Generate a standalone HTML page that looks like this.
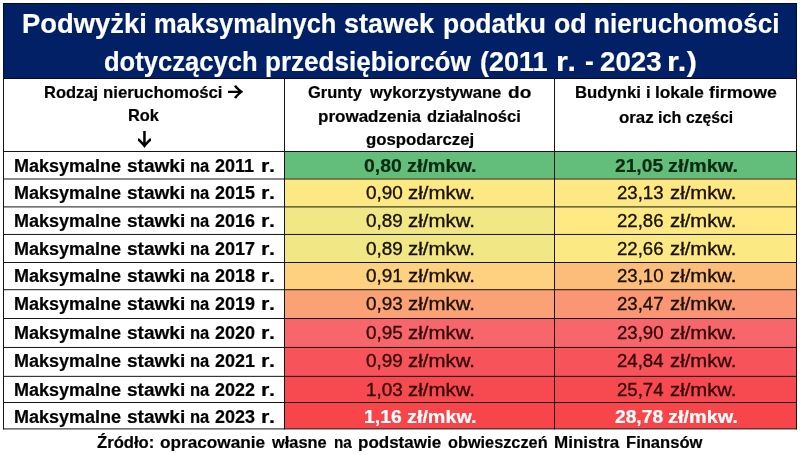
<!DOCTYPE html>
<html lang="pl"><head><meta charset="utf-8"><title>Podwyżki maksymalnych stawek podatku od nieruchomości</title>
<style>
html,body{margin:0;padding:0;background:#fff}
#w{position:relative;width:800px;height:455px;overflow:hidden;background:#fff;font-family:"Liberation Sans", sans-serif}
.t{position:absolute;white-space:nowrap;line-height:1;transform-origin:0 0;display:block}
</style></head><body><div id="w">
<svg width="800" height="455" viewBox="0 0 800 455" style="position:absolute;left:0;top:0"><rect x="0" y="0" width="800" height="455" fill="#fff"/><rect x="3" y="3" width="794" height="76" fill="#012066"/><rect x="284" y="151.0" width="271" height="28.00" fill="#63be7b"/><rect x="554" y="151.0" width="243" height="28.00" fill="#63be7b"/><rect x="284" y="178.5" width="271" height="28.40" fill="#fde983"/><rect x="554" y="178.5" width="243" height="28.40" fill="#fee883"/><rect x="284" y="206.4" width="271" height="28.05" fill="#f1e784"/><rect x="554" y="206.4" width="243" height="28.05" fill="#fee983"/><rect x="284" y="233.95" width="271" height="28.55" fill="#f1e784"/><rect x="554" y="233.95" width="243" height="28.55" fill="#fbe983"/><rect x="284" y="262.0" width="271" height="27.70" fill="#fdd17f"/><rect x="554" y="262.0" width="243" height="27.70" fill="#fcbc7a"/><rect x="284" y="289.2" width="271" height="29.30" fill="#fba176"/><rect x="554" y="289.2" width="243" height="29.30" fill="#fa9673"/><rect x="284" y="318.0" width="271" height="29.45" fill="#f7666a"/><rect x="554" y="318.0" width="243" height="29.45" fill="#f7666a"/><rect x="284" y="346.95" width="271" height="29.40" fill="#f6545a"/><rect x="554" y="346.95" width="243" height="29.40" fill="#f6545a"/><rect x="284" y="375.85" width="271" height="26.65" fill="#f64a50"/><rect x="554" y="375.85" width="243" height="26.65" fill="#f64a50"/><rect x="284" y="402.0" width="271" height="26.90" fill="#f7454a"/><rect x="554" y="402.0" width="243" height="26.90" fill="#f7454a"/><rect x="3" y="3" width="794" height="1" fill="#000a24"/><rect x="3" y="78" width="794" height="1" fill="#00081c"/><rect x="3" y="151.0" width="794" height="1" fill="#161616"/><rect x="3" y="178.5" width="794" height="1" fill="#161616"/><rect x="3" y="206.4" width="794" height="1" fill="#161616"/><rect x="3" y="233.95" width="794" height="1" fill="#161616"/><rect x="3" y="262.0" width="794" height="1" fill="#161616"/><rect x="3" y="289.2" width="794" height="1" fill="#161616"/><rect x="3" y="318.0" width="794" height="1" fill="#161616"/><rect x="3" y="346.95" width="794" height="1" fill="#161616"/><rect x="3" y="375.85" width="794" height="1" fill="#161616"/><rect x="3" y="402.0" width="794" height="1" fill="#161616"/><rect x="3" y="428.4" width="794" height="1" fill="#161616"/><rect x="3" y="3" width="1" height="426.4" fill="#161616"/><rect x="796" y="3" width="1" height="426.4" fill="#161616"/><rect x="3" y="3" width="1" height="75" fill="#00103a"/><rect x="796" y="3" width="1" height="75" fill="#00103a"/><rect x="284" y="78" width="1" height="351.4" fill="#161616"/><rect x="554" y="78" width="1" height="351.4" fill="#161616"/></svg>
<span class="t" style="left:21.97px;top:10.20px;font-size:27.6px;font-weight:700;color:#fff;font-family:'Liberation Sans', sans-serif;transform:scale(0.9921,1.0000);-webkit-text-stroke:0.2px #fff">Podwyżki</span>
<span class="t" style="left:153.60px;top:10.20px;font-size:27.6px;font-weight:700;color:#fff;font-family:'Liberation Sans', sans-serif;transform:scale(0.9218,1.0000);-webkit-text-stroke:0.2px #fff">maksymalnych</span>
<span class="t" style="left:343.61px;top:10.20px;font-size:27.6px;font-weight:700;color:#fff;font-family:'Liberation Sans', sans-serif;transform:scale(0.9792,1.0000);-webkit-text-stroke:0.2px #fff">stawek</span>
<span class="t" style="left:443.23px;top:10.20px;font-size:27.6px;font-weight:700;color:#fff;font-family:'Liberation Sans', sans-serif;transform:scale(0.9601,1.0000);-webkit-text-stroke:0.2px #fff">podatku</span>
<span class="t" style="left:553.90px;top:10.20px;font-size:27.6px;font-weight:700;color:#fff;font-family:'Liberation Sans', sans-serif;transform:scale(0.9677,1.0000);-webkit-text-stroke:0.2px #fff">od</span>
<span class="t" style="left:593.56px;top:10.20px;font-size:27.6px;font-weight:700;color:#fff;font-family:'Liberation Sans', sans-serif;transform:scale(0.9445,1.0000);-webkit-text-stroke:0.2px #fff">nieruchomości</span>
<span class="t" style="left:103.71px;top:47.70px;font-size:27.6px;font-weight:700;color:#fff;font-family:'Liberation Sans', sans-serif;transform:scale(0.9269,1.0000);-webkit-text-stroke:0.2px #fff">dotyczących</span>
<span class="t" style="left:264.76px;top:47.70px;font-size:27.6px;font-weight:700;color:#fff;font-family:'Liberation Sans', sans-serif;transform:scale(0.9445,1.0000);-webkit-text-stroke:0.2px #fff">przedsiębiorców</span>
<span class="t" style="left:479.61px;top:47.70px;font-size:27.6px;font-weight:700;color:#fff;font-family:'Liberation Sans', sans-serif;transform:scale(0.9790,1.0000);-webkit-text-stroke:0.2px #fff">(2011</span>
<span class="t" style="left:556.07px;top:47.70px;font-size:27.6px;font-weight:700;color:#fff;font-family:'Liberation Sans', sans-serif;transform:scale(1.1047,1.0000);-webkit-text-stroke:0.2px #fff;letter-spacing:1.233px">r.</span>
<span class="t" style="left:584.53px;top:47.70px;font-size:27.6px;font-weight:700;color:#fff;font-family:'Liberation Sans', sans-serif;transform:scale(0.9523,1.0000);-webkit-text-stroke:0.2px #fff">-</span>
<span class="t" style="left:599.90px;top:47.70px;font-size:27.6px;font-weight:700;color:#fff;font-family:'Liberation Sans', sans-serif;transform:scale(1.0037,1.0000);-webkit-text-stroke:0.2px #fff">2023</span>
<span class="t" style="left:667.27px;top:47.70px;font-size:27.6px;font-weight:700;color:#fff;font-family:'Liberation Sans', sans-serif;transform:scale(1.1047,1.0000);-webkit-text-stroke:0.2px #fff;letter-spacing:0.536px">r.)</span>
<span class="t" style="left:43.98px;top:83.90px;font-size:17.0px;font-weight:700;color:#000;font-family:'Liberation Sans', sans-serif;transform:scale(0.9689,1.0000);-webkit-text-stroke:0.2px #000">Rodzaj</span>
<span class="t" style="left:102.64px;top:83.90px;font-size:17.0px;font-weight:700;color:#000;font-family:'Liberation Sans', sans-serif;transform:scale(0.9884,1.0000);-webkit-text-stroke:0.2px #000">nieruchomości</span>
<span class="t" style="left:128.48px;top:107.30px;font-size:17.0px;font-weight:700;color:#000;font-family:'Liberation Sans', sans-serif;transform:scale(0.9640,1.0000);-webkit-text-stroke:0.2px #000">Rok</span>
<span class="t" style="left:308.25px;top:83.60px;font-size:17.0px;font-weight:700;color:#000;font-family:'Liberation Sans', sans-serif;transform:scale(0.9683,1.0000);-webkit-text-stroke:0.2px #000">Grunty</span>
<span class="t" style="left:369.62px;top:83.60px;font-size:17.0px;font-weight:700;color:#000;font-family:'Liberation Sans', sans-serif;transform:scale(0.9788,1.0000);-webkit-text-stroke:0.2px #000">wykorzystywane</span>
<span class="t" style="left:507.57px;top:83.60px;font-size:17.0px;font-weight:700;color:#000;font-family:'Liberation Sans', sans-serif;transform:scale(1.1214,1.0000);-webkit-text-stroke:0.2px #000">do</span>
<span class="t" style="left:317.62px;top:107.50px;font-size:17.0px;font-weight:700;color:#000;font-family:'Liberation Sans', sans-serif;transform:scale(1.0012,1.0000);-webkit-text-stroke:0.2px #000">prowadzenia</span>
<span class="t" style="left:427.48px;top:107.50px;font-size:17.0px;font-weight:700;color:#000;font-family:'Liberation Sans', sans-serif;transform:scale(0.9733,1.0000);-webkit-text-stroke:0.2px #000">działalności</span>
<span class="t" style="left:365.77px;top:130.90px;font-size:17.0px;font-weight:700;color:#000;font-family:'Liberation Sans', sans-serif;transform:scale(0.9875,1.0000);-webkit-text-stroke:0.2px #000">gospodarczej</span>
<span class="t" style="left:574.86px;top:84.00px;font-size:17.0px;font-weight:700;color:#000;font-family:'Liberation Sans', sans-serif;transform:scale(0.9832,1.0000);-webkit-text-stroke:0.2px #000">Budynki</span>
<span class="t" style="left:645.61px;top:84.00px;font-size:17.0px;font-weight:700;color:#000;font-family:'Liberation Sans', sans-serif;transform:scale(0.9832,1.0000);-webkit-text-stroke:0.2px #000">i</span>
<span class="t" style="left:654.57px;top:84.00px;font-size:17.0px;font-weight:700;color:#000;font-family:'Liberation Sans', sans-serif;transform:scale(1.0149,1.0000);-webkit-text-stroke:0.2px #000">lokale</span>
<span class="t" style="left:708.57px;top:84.00px;font-size:17.0px;font-weight:700;color:#000;font-family:'Liberation Sans', sans-serif;transform:scale(1.0388,1.0000);-webkit-text-stroke:0.2px #000">firmowe</span>
<span class="t" style="left:618.99px;top:109.20px;font-size:17.0px;font-weight:700;color:#000;font-family:'Liberation Sans', sans-serif;transform:scale(0.9921,1.0000);-webkit-text-stroke:0.2px #000">oraz</span>
<span class="t" style="left:657.95px;top:109.20px;font-size:17.0px;font-weight:700;color:#000;font-family:'Liberation Sans', sans-serif;transform:scale(0.9483,1.0000);-webkit-text-stroke:0.2px #000">ich</span>
<span class="t" style="left:686.24px;top:109.20px;font-size:17.0px;font-weight:700;color:#000;font-family:'Liberation Sans', sans-serif;transform:scale(0.9249,1.0000);-webkit-text-stroke:0.2px #000">części</span>
<span class="t" style="left:13.77px;top:157.55px;font-size:17.5px;font-weight:700;color:#000;font-family:'Liberation Sans', sans-serif;transform:scale(1.0287,1.0000);-webkit-text-stroke:0.2px #000">Maksymalne</span>
<span class="t" style="left:126.88px;top:157.55px;font-size:17.5px;font-weight:700;color:#000;font-family:'Liberation Sans', sans-serif;transform:scale(1.0888,1.0000);-webkit-text-stroke:0.2px #000">stawki</span>
<span class="t" style="left:189.77px;top:157.55px;font-size:17.5px;font-weight:700;color:#000;font-family:'Liberation Sans', sans-serif;transform:scale(0.9454,1.0000);-webkit-text-stroke:0.2px #000">na</span>
<span class="t" style="left:215.47px;top:157.55px;font-size:17.5px;font-weight:700;color:#000;font-family:'Liberation Sans', sans-serif;transform:scale(1.0280,1.0000);-webkit-text-stroke:0.2px #000">2011</span>
<span class="t" style="left:261.03px;top:157.55px;font-size:17.5px;font-weight:700;color:#000;font-family:'Liberation Sans', sans-serif;transform:scale(1.2281,1.0000);-webkit-text-stroke:0.2px #000;letter-spacing:0.598px">r.</span>
<span class="t" style="left:364.30px;top:156.55px;font-size:18.0px;font-weight:700;color:#0a2a12;font-family:'Liberation Sans', sans-serif;transform:scale(1.0778,1.0000);-webkit-text-stroke:0.2px #0a2a12">0,80</span>
<span class="t" style="left:407.11px;top:156.55px;font-size:18.0px;font-weight:700;color:#0a2a12;font-family:'Liberation Sans', sans-serif;transform:scale(1.0983,1.0000);-webkit-text-stroke:0.2px #0a2a12">zł/mkw.</span>
<span class="t" style="left:614.93px;top:156.55px;font-size:18.0px;font-weight:700;color:#0a2a12;font-family:'Liberation Sans', sans-serif;transform:scale(1.0674,1.0000);-webkit-text-stroke:0.2px #0a2a12">21,05</span>
<span class="t" style="left:667.80px;top:156.55px;font-size:18.0px;font-weight:700;color:#0a2a12;font-family:'Liberation Sans', sans-serif;transform:scale(1.1064,1.0000);-webkit-text-stroke:0.2px #0a2a12">zł/mkw.</span>
<span class="t" style="left:13.77px;top:184.90px;font-size:17.5px;font-weight:700;color:#000;font-family:'Liberation Sans', sans-serif;transform:scale(1.0287,1.0000);-webkit-text-stroke:0.2px #000">Maksymalne</span>
<span class="t" style="left:126.88px;top:184.90px;font-size:17.5px;font-weight:700;color:#000;font-family:'Liberation Sans', sans-serif;transform:scale(1.0888,1.0000);-webkit-text-stroke:0.2px #000">stawki</span>
<span class="t" style="left:189.77px;top:184.90px;font-size:17.5px;font-weight:700;color:#000;font-family:'Liberation Sans', sans-serif;transform:scale(0.9454,1.0000);-webkit-text-stroke:0.2px #000">na</span>
<span class="t" style="left:215.47px;top:184.90px;font-size:17.5px;font-weight:700;color:#000;font-family:'Liberation Sans', sans-serif;transform:scale(1.0280,1.0000);-webkit-text-stroke:0.2px #000">2015</span>
<span class="t" style="left:261.03px;top:184.90px;font-size:17.5px;font-weight:700;color:#000;font-family:'Liberation Sans', sans-serif;transform:scale(1.2281,1.0000);-webkit-text-stroke:0.2px #000;letter-spacing:0.598px">r.</span>
<span class="t" style="left:366.23px;top:183.90px;font-size:18.0px;font-weight:400;color:#1a1208;font-family:'Liberation Sans', sans-serif;transform:scale(1.0521,1.0000);-webkit-text-stroke:0.35px #1a1208">0,90</span>
<span class="t" style="left:407.86px;top:183.90px;font-size:18.0px;font-weight:400;color:#1a1208;font-family:'Liberation Sans', sans-serif;transform:scale(1.1357,1.0000);-webkit-text-stroke:0.35px #1a1208">zł/mkw.</span>
<span class="t" style="left:616.57px;top:183.90px;font-size:18.0px;font-weight:400;color:#1a1208;font-family:'Liberation Sans', sans-serif;transform:scale(1.0333,1.0000);-webkit-text-stroke:0.35px #1a1208">23,13</span>
<span class="t" style="left:669.77px;top:183.90px;font-size:18.0px;font-weight:400;color:#1a1208;font-family:'Liberation Sans', sans-serif;transform:scale(1.1269,1.0000);-webkit-text-stroke:0.35px #1a1208">zł/mkw.</span>
<span class="t" style="left:13.77px;top:212.90px;font-size:17.5px;font-weight:700;color:#000;font-family:'Liberation Sans', sans-serif;transform:scale(1.0287,1.0000);-webkit-text-stroke:0.2px #000">Maksymalne</span>
<span class="t" style="left:126.88px;top:212.90px;font-size:17.5px;font-weight:700;color:#000;font-family:'Liberation Sans', sans-serif;transform:scale(1.0888,1.0000);-webkit-text-stroke:0.2px #000">stawki</span>
<span class="t" style="left:189.77px;top:212.90px;font-size:17.5px;font-weight:700;color:#000;font-family:'Liberation Sans', sans-serif;transform:scale(0.9454,1.0000);-webkit-text-stroke:0.2px #000">na</span>
<span class="t" style="left:215.47px;top:212.90px;font-size:17.5px;font-weight:700;color:#000;font-family:'Liberation Sans', sans-serif;transform:scale(1.0280,1.0000);-webkit-text-stroke:0.2px #000">2016</span>
<span class="t" style="left:261.03px;top:212.90px;font-size:17.5px;font-weight:700;color:#000;font-family:'Liberation Sans', sans-serif;transform:scale(1.2281,1.0000);-webkit-text-stroke:0.2px #000;letter-spacing:0.598px">r.</span>
<span class="t" style="left:366.23px;top:211.90px;font-size:18.0px;font-weight:400;color:#1a1208;font-family:'Liberation Sans', sans-serif;transform:scale(1.0521,1.0000);-webkit-text-stroke:0.35px #1a1208">0,89</span>
<span class="t" style="left:407.86px;top:211.90px;font-size:18.0px;font-weight:400;color:#1a1208;font-family:'Liberation Sans', sans-serif;transform:scale(1.1357,1.0000);-webkit-text-stroke:0.35px #1a1208">zł/mkw.</span>
<span class="t" style="left:616.57px;top:211.90px;font-size:18.0px;font-weight:400;color:#1a1208;font-family:'Liberation Sans', sans-serif;transform:scale(1.0333,1.0000);-webkit-text-stroke:0.35px #1a1208">22,86</span>
<span class="t" style="left:669.77px;top:211.90px;font-size:18.0px;font-weight:400;color:#1a1208;font-family:'Liberation Sans', sans-serif;transform:scale(1.1269,1.0000);-webkit-text-stroke:0.35px #1a1208">zł/mkw.</span>
<span class="t" style="left:13.77px;top:240.60px;font-size:17.5px;font-weight:700;color:#000;font-family:'Liberation Sans', sans-serif;transform:scale(1.0287,1.0000);-webkit-text-stroke:0.2px #000">Maksymalne</span>
<span class="t" style="left:126.88px;top:240.60px;font-size:17.5px;font-weight:700;color:#000;font-family:'Liberation Sans', sans-serif;transform:scale(1.0888,1.0000);-webkit-text-stroke:0.2px #000">stawki</span>
<span class="t" style="left:189.77px;top:240.60px;font-size:17.5px;font-weight:700;color:#000;font-family:'Liberation Sans', sans-serif;transform:scale(0.9454,1.0000);-webkit-text-stroke:0.2px #000">na</span>
<span class="t" style="left:215.47px;top:240.60px;font-size:17.5px;font-weight:700;color:#000;font-family:'Liberation Sans', sans-serif;transform:scale(1.0280,1.0000);-webkit-text-stroke:0.2px #000">2017</span>
<span class="t" style="left:261.03px;top:240.60px;font-size:17.5px;font-weight:700;color:#000;font-family:'Liberation Sans', sans-serif;transform:scale(1.2281,1.0000);-webkit-text-stroke:0.2px #000;letter-spacing:0.598px">r.</span>
<span class="t" style="left:366.23px;top:239.60px;font-size:18.0px;font-weight:400;color:#1a1208;font-family:'Liberation Sans', sans-serif;transform:scale(1.0521,1.0000);-webkit-text-stroke:0.35px #1a1208">0,89</span>
<span class="t" style="left:407.86px;top:239.60px;font-size:18.0px;font-weight:400;color:#1a1208;font-family:'Liberation Sans', sans-serif;transform:scale(1.1357,1.0000);-webkit-text-stroke:0.35px #1a1208">zł/mkw.</span>
<span class="t" style="left:616.57px;top:239.60px;font-size:18.0px;font-weight:400;color:#1a1208;font-family:'Liberation Sans', sans-serif;transform:scale(1.0333,1.0000);-webkit-text-stroke:0.35px #1a1208">22,66</span>
<span class="t" style="left:669.77px;top:239.60px;font-size:18.0px;font-weight:400;color:#1a1208;font-family:'Liberation Sans', sans-serif;transform:scale(1.1269,1.0000);-webkit-text-stroke:0.35px #1a1208">zł/mkw.</span>
<span class="t" style="left:13.77px;top:268.20px;font-size:17.5px;font-weight:700;color:#000;font-family:'Liberation Sans', sans-serif;transform:scale(1.0287,1.0000);-webkit-text-stroke:0.2px #000">Maksymalne</span>
<span class="t" style="left:126.88px;top:268.20px;font-size:17.5px;font-weight:700;color:#000;font-family:'Liberation Sans', sans-serif;transform:scale(1.0888,1.0000);-webkit-text-stroke:0.2px #000">stawki</span>
<span class="t" style="left:189.77px;top:268.20px;font-size:17.5px;font-weight:700;color:#000;font-family:'Liberation Sans', sans-serif;transform:scale(0.9454,1.0000);-webkit-text-stroke:0.2px #000">na</span>
<span class="t" style="left:215.47px;top:268.20px;font-size:17.5px;font-weight:700;color:#000;font-family:'Liberation Sans', sans-serif;transform:scale(1.0280,1.0000);-webkit-text-stroke:0.2px #000">2018</span>
<span class="t" style="left:261.03px;top:268.20px;font-size:17.5px;font-weight:700;color:#000;font-family:'Liberation Sans', sans-serif;transform:scale(1.2281,1.0000);-webkit-text-stroke:0.2px #000;letter-spacing:0.598px">r.</span>
<span class="t" style="left:366.23px;top:267.20px;font-size:18.0px;font-weight:400;color:#1a1208;font-family:'Liberation Sans', sans-serif;transform:scale(1.0521,1.0000);-webkit-text-stroke:0.35px #1a1208">0,91</span>
<span class="t" style="left:407.86px;top:267.20px;font-size:18.0px;font-weight:400;color:#1a1208;font-family:'Liberation Sans', sans-serif;transform:scale(1.1357,1.0000);-webkit-text-stroke:0.35px #1a1208">zł/mkw.</span>
<span class="t" style="left:616.57px;top:267.20px;font-size:18.0px;font-weight:400;color:#1a1208;font-family:'Liberation Sans', sans-serif;transform:scale(1.0333,1.0000);-webkit-text-stroke:0.35px #1a1208">23,10</span>
<span class="t" style="left:669.77px;top:267.20px;font-size:18.0px;font-weight:400;color:#1a1208;font-family:'Liberation Sans', sans-serif;transform:scale(1.1269,1.0000);-webkit-text-stroke:0.35px #1a1208">zł/mkw.</span>
<span class="t" style="left:13.77px;top:295.80px;font-size:17.5px;font-weight:700;color:#000;font-family:'Liberation Sans', sans-serif;transform:scale(1.0287,1.0000);-webkit-text-stroke:0.2px #000">Maksymalne</span>
<span class="t" style="left:126.88px;top:295.80px;font-size:17.5px;font-weight:700;color:#000;font-family:'Liberation Sans', sans-serif;transform:scale(1.0888,1.0000);-webkit-text-stroke:0.2px #000">stawki</span>
<span class="t" style="left:189.77px;top:295.80px;font-size:17.5px;font-weight:700;color:#000;font-family:'Liberation Sans', sans-serif;transform:scale(0.9454,1.0000);-webkit-text-stroke:0.2px #000">na</span>
<span class="t" style="left:215.47px;top:295.80px;font-size:17.5px;font-weight:700;color:#000;font-family:'Liberation Sans', sans-serif;transform:scale(1.0280,1.0000);-webkit-text-stroke:0.2px #000">2019</span>
<span class="t" style="left:261.03px;top:295.80px;font-size:17.5px;font-weight:700;color:#000;font-family:'Liberation Sans', sans-serif;transform:scale(1.2281,1.0000);-webkit-text-stroke:0.2px #000;letter-spacing:0.598px">r.</span>
<span class="t" style="left:366.23px;top:294.80px;font-size:18.0px;font-weight:400;color:#1a1208;font-family:'Liberation Sans', sans-serif;transform:scale(1.0521,1.0000);-webkit-text-stroke:0.35px #1a1208">0,93</span>
<span class="t" style="left:407.86px;top:294.80px;font-size:18.0px;font-weight:400;color:#1a1208;font-family:'Liberation Sans', sans-serif;transform:scale(1.1357,1.0000);-webkit-text-stroke:0.35px #1a1208">zł/mkw.</span>
<span class="t" style="left:616.57px;top:294.80px;font-size:18.0px;font-weight:400;color:#1a1208;font-family:'Liberation Sans', sans-serif;transform:scale(1.0333,1.0000);-webkit-text-stroke:0.35px #1a1208">23,47</span>
<span class="t" style="left:669.77px;top:294.80px;font-size:18.0px;font-weight:400;color:#1a1208;font-family:'Liberation Sans', sans-serif;transform:scale(1.1269,1.0000);-webkit-text-stroke:0.35px #1a1208">zł/mkw.</span>
<span class="t" style="left:13.77px;top:324.50px;font-size:17.5px;font-weight:700;color:#000;font-family:'Liberation Sans', sans-serif;transform:scale(1.0287,1.0000);-webkit-text-stroke:0.2px #000">Maksymalne</span>
<span class="t" style="left:126.88px;top:324.50px;font-size:17.5px;font-weight:700;color:#000;font-family:'Liberation Sans', sans-serif;transform:scale(1.0888,1.0000);-webkit-text-stroke:0.2px #000">stawki</span>
<span class="t" style="left:189.77px;top:324.50px;font-size:17.5px;font-weight:700;color:#000;font-family:'Liberation Sans', sans-serif;transform:scale(0.9454,1.0000);-webkit-text-stroke:0.2px #000">na</span>
<span class="t" style="left:215.47px;top:324.50px;font-size:17.5px;font-weight:700;color:#000;font-family:'Liberation Sans', sans-serif;transform:scale(1.0280,1.0000);-webkit-text-stroke:0.2px #000">2020</span>
<span class="t" style="left:261.03px;top:324.50px;font-size:17.5px;font-weight:700;color:#000;font-family:'Liberation Sans', sans-serif;transform:scale(1.2281,1.0000);-webkit-text-stroke:0.2px #000;letter-spacing:0.598px">r.</span>
<span class="t" style="left:366.23px;top:323.50px;font-size:18.0px;font-weight:400;color:#330808;font-family:'Liberation Sans', sans-serif;transform:scale(1.0521,1.0000);-webkit-text-stroke:0.35px #330808">0,95</span>
<span class="t" style="left:407.86px;top:323.50px;font-size:18.0px;font-weight:400;color:#330808;font-family:'Liberation Sans', sans-serif;transform:scale(1.1357,1.0000);-webkit-text-stroke:0.35px #330808">zł/mkw.</span>
<span class="t" style="left:616.57px;top:323.50px;font-size:18.0px;font-weight:400;color:#330808;font-family:'Liberation Sans', sans-serif;transform:scale(1.0333,1.0000);-webkit-text-stroke:0.35px #330808">23,90</span>
<span class="t" style="left:669.77px;top:323.50px;font-size:18.0px;font-weight:400;color:#330808;font-family:'Liberation Sans', sans-serif;transform:scale(1.1269,1.0000);-webkit-text-stroke:0.35px #330808">zł/mkw.</span>
<span class="t" style="left:13.77px;top:352.90px;font-size:17.5px;font-weight:700;color:#000;font-family:'Liberation Sans', sans-serif;transform:scale(1.0287,1.0000);-webkit-text-stroke:0.2px #000">Maksymalne</span>
<span class="t" style="left:126.88px;top:352.90px;font-size:17.5px;font-weight:700;color:#000;font-family:'Liberation Sans', sans-serif;transform:scale(1.0888,1.0000);-webkit-text-stroke:0.2px #000">stawki</span>
<span class="t" style="left:189.77px;top:352.90px;font-size:17.5px;font-weight:700;color:#000;font-family:'Liberation Sans', sans-serif;transform:scale(0.9454,1.0000);-webkit-text-stroke:0.2px #000">na</span>
<span class="t" style="left:215.47px;top:352.90px;font-size:17.5px;font-weight:700;color:#000;font-family:'Liberation Sans', sans-serif;transform:scale(1.0280,1.0000);-webkit-text-stroke:0.2px #000">2021</span>
<span class="t" style="left:261.03px;top:352.90px;font-size:17.5px;font-weight:700;color:#000;font-family:'Liberation Sans', sans-serif;transform:scale(1.2281,1.0000);-webkit-text-stroke:0.2px #000;letter-spacing:0.598px">r.</span>
<span class="t" style="left:366.23px;top:351.90px;font-size:18.0px;font-weight:400;color:#330808;font-family:'Liberation Sans', sans-serif;transform:scale(1.0521,1.0000);-webkit-text-stroke:0.35px #330808">0,99</span>
<span class="t" style="left:407.86px;top:351.90px;font-size:18.0px;font-weight:400;color:#330808;font-family:'Liberation Sans', sans-serif;transform:scale(1.1357,1.0000);-webkit-text-stroke:0.35px #330808">zł/mkw.</span>
<span class="t" style="left:616.57px;top:351.90px;font-size:18.0px;font-weight:400;color:#330808;font-family:'Liberation Sans', sans-serif;transform:scale(1.0333,1.0000);-webkit-text-stroke:0.35px #330808">24,84</span>
<span class="t" style="left:669.77px;top:351.90px;font-size:18.0px;font-weight:400;color:#330808;font-family:'Liberation Sans', sans-serif;transform:scale(1.1269,1.0000);-webkit-text-stroke:0.35px #330808">zł/mkw.</span>
<span class="t" style="left:13.77px;top:381.70px;font-size:17.5px;font-weight:700;color:#000;font-family:'Liberation Sans', sans-serif;transform:scale(1.0287,1.0000);-webkit-text-stroke:0.2px #000">Maksymalne</span>
<span class="t" style="left:126.88px;top:381.70px;font-size:17.5px;font-weight:700;color:#000;font-family:'Liberation Sans', sans-serif;transform:scale(1.0888,1.0000);-webkit-text-stroke:0.2px #000">stawki</span>
<span class="t" style="left:189.77px;top:381.70px;font-size:17.5px;font-weight:700;color:#000;font-family:'Liberation Sans', sans-serif;transform:scale(0.9454,1.0000);-webkit-text-stroke:0.2px #000">na</span>
<span class="t" style="left:215.47px;top:381.70px;font-size:17.5px;font-weight:700;color:#000;font-family:'Liberation Sans', sans-serif;transform:scale(1.0280,1.0000);-webkit-text-stroke:0.2px #000">2022</span>
<span class="t" style="left:261.03px;top:381.70px;font-size:17.5px;font-weight:700;color:#000;font-family:'Liberation Sans', sans-serif;transform:scale(1.2281,1.0000);-webkit-text-stroke:0.2px #000;letter-spacing:0.598px">r.</span>
<span class="t" style="left:366.23px;top:380.70px;font-size:18.0px;font-weight:400;color:#330808;font-family:'Liberation Sans', sans-serif;transform:scale(1.0521,1.0000);-webkit-text-stroke:0.35px #330808">1,03</span>
<span class="t" style="left:407.86px;top:380.70px;font-size:18.0px;font-weight:400;color:#330808;font-family:'Liberation Sans', sans-serif;transform:scale(1.1357,1.0000);-webkit-text-stroke:0.35px #330808">zł/mkw.</span>
<span class="t" style="left:616.57px;top:380.70px;font-size:18.0px;font-weight:400;color:#330808;font-family:'Liberation Sans', sans-serif;transform:scale(1.0333,1.0000);-webkit-text-stroke:0.35px #330808">25,74</span>
<span class="t" style="left:669.77px;top:380.70px;font-size:18.0px;font-weight:400;color:#330808;font-family:'Liberation Sans', sans-serif;transform:scale(1.1269,1.0000);-webkit-text-stroke:0.35px #330808">zł/mkw.</span>
<span class="t" style="left:13.77px;top:408.80px;font-size:17.5px;font-weight:700;color:#000;font-family:'Liberation Sans', sans-serif;transform:scale(1.0287,1.0000);-webkit-text-stroke:0.2px #000">Maksymalne</span>
<span class="t" style="left:126.88px;top:408.80px;font-size:17.5px;font-weight:700;color:#000;font-family:'Liberation Sans', sans-serif;transform:scale(1.0888,1.0000);-webkit-text-stroke:0.2px #000">stawki</span>
<span class="t" style="left:189.77px;top:408.80px;font-size:17.5px;font-weight:700;color:#000;font-family:'Liberation Sans', sans-serif;transform:scale(0.9454,1.0000);-webkit-text-stroke:0.2px #000">na</span>
<span class="t" style="left:215.47px;top:408.80px;font-size:17.5px;font-weight:700;color:#000;font-family:'Liberation Sans', sans-serif;transform:scale(1.0280,1.0000);-webkit-text-stroke:0.2px #000">2023</span>
<span class="t" style="left:261.03px;top:408.80px;font-size:17.5px;font-weight:700;color:#000;font-family:'Liberation Sans', sans-serif;transform:scale(1.2281,1.0000);-webkit-text-stroke:0.2px #000;letter-spacing:0.598px">r.</span>
<span class="t" style="left:364.30px;top:407.80px;font-size:18.0px;font-weight:700;color:#fff;font-family:'Liberation Sans', sans-serif;transform:scale(1.0778,1.0000);-webkit-text-stroke:0.2px #fff">1,16</span>
<span class="t" style="left:407.11px;top:407.80px;font-size:18.0px;font-weight:700;color:#fff;font-family:'Liberation Sans', sans-serif;transform:scale(1.0983,1.0000);-webkit-text-stroke:0.2px #fff">zł/mkw.</span>
<span class="t" style="left:614.93px;top:407.80px;font-size:18.0px;font-weight:700;color:#fff;font-family:'Liberation Sans', sans-serif;transform:scale(1.0674,1.0000);-webkit-text-stroke:0.2px #fff">28,78</span>
<span class="t" style="left:667.80px;top:407.80px;font-size:18.0px;font-weight:700;color:#fff;font-family:'Liberation Sans', sans-serif;transform:scale(1.1064,1.0000);-webkit-text-stroke:0.2px #fff">zł/mkw.</span>
<span class="t" style="left:96.99px;top:434.90px;font-size:16.7px;font-weight:700;color:#000;font-family:'Liberation Sans', sans-serif;transform:scale(0.9976,1.0000);-webkit-text-stroke:0.2px #000">Źródło:</span>
<span class="t" style="left:160.18px;top:434.90px;font-size:16.7px;font-weight:700;color:#000;font-family:'Liberation Sans', sans-serif;transform:scale(1.0302,1.0000);-webkit-text-stroke:0.2px #000">opracowanie</span>
<span class="t" style="left:271.52px;top:434.90px;font-size:16.7px;font-weight:700;color:#000;font-family:'Liberation Sans', sans-serif;transform:scale(0.9825,1.0000);-webkit-text-stroke:0.2px #000">własne</span>
<span class="t" style="left:333.75px;top:434.90px;font-size:16.7px;font-weight:700;color:#000;font-family:'Liberation Sans', sans-serif;transform:scale(0.9156,1.0000);-webkit-text-stroke:0.2px #000">na</span>
<span class="t" style="left:358.23px;top:434.90px;font-size:16.7px;font-weight:700;color:#000;font-family:'Liberation Sans', sans-serif;transform:scale(1.0188,1.0000);-webkit-text-stroke:0.2px #000">podstawie</span>
<span class="t" style="left:448.11px;top:434.90px;font-size:16.7px;font-weight:700;color:#000;font-family:'Liberation Sans', sans-serif;transform:scale(0.9762,1.0000);-webkit-text-stroke:0.2px #000">obwieszczeń</span>
<span class="t" style="left:553.85px;top:434.90px;font-size:16.7px;font-weight:700;color:#000;font-family:'Liberation Sans', sans-serif;transform:scale(1.0194,1.0000);-webkit-text-stroke:0.2px #000">Ministra</span>
<span class="t" style="left:625.58px;top:434.90px;font-size:16.7px;font-weight:700;color:#000;font-family:'Liberation Sans', sans-serif;transform:scale(0.9939,1.0000);-webkit-text-stroke:0.2px #000">Finansów</span>
<div style="position:absolute;left:228.00px;top:84.70px;width:14.80px;height:15.20px;overflow:hidden"><span class="t" style="left:-12.04px;top:-7.28px;font-size:28.37px;font-weight:500;color:#000;font-family:'Noto Sans CJK JP', sans-serif">→</span></div>
<div style="position:absolute;left:137.50px;top:131.30px;width:13.60px;height:17.10px;overflow:hidden"><span class="t" style="left:-8.34px;top:-14.44px;font-size:30.41px;font-weight:500;color:#000;font-family:'Noto Sans CJK JP', sans-serif">↓</span></div>
</div></body></html>
